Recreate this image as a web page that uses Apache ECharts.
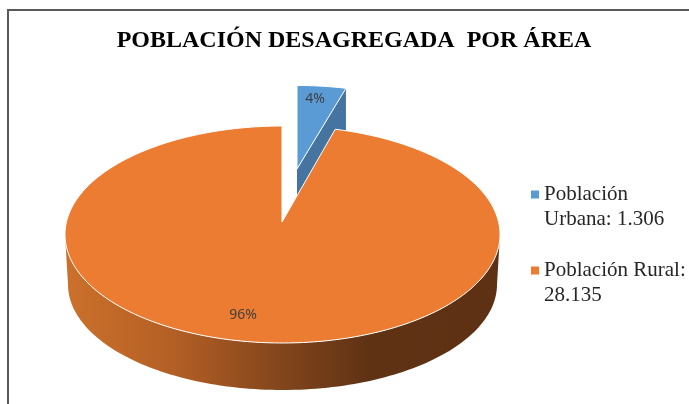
<!DOCTYPE html>
<html>
<head>
<meta charset="utf-8">
<style>
  html, body { margin: 0; padding: 0; background: #fff; }
  #main { width: 689px; height: 404px; }
</style>
<script src="https://cdn.jsdelivr.net/npm/echarts@6/dist/echarts.min.js"></script>
</head>
<body>
<div id="main"></div>
<script>
const titleText = 'POBLACIÓN DESAGREGADA  POR ÁREA';
const categories = ['Población\nUrbana: 1.306', 'Población Rural:\n28.135'];
const values = [1306, 28135];
const colors = ['#5B9BD5', '#EB7C31'];

// tilted pie: ellipse of the top face, apex sits above its centre (perspective)
const disc = { cx: 282.5, cy: 234.5, rx: 217.5, ry: 108.5, apexX: 282, apexY: 222, depth: 50 };
const blueShift = { dx: 15, dy: -53, scaleX: 0.92, scaleY: 0.87 };

const total = values[0] + values[1];
const blueAngle = (values[0] / total) * Math.PI * 2;

// where the ray at angle a (clockwise from top) leaves the ellipse
function edgePoint(a) {
  const dx = Math.sin(a) * disc.rx;
  const dy = -Math.cos(a) * disc.ry;
  const ox = (disc.apexX - disc.cx) / disc.rx;
  const oy = (disc.apexY - disc.cy) / disc.ry;
  const ux = dx / disc.rx;
  const uy = dy / disc.ry;
  const A = ux * ux + uy * uy;
  const B = 2 * (ox * ux + oy * uy);
  const C = ox * ox + oy * oy - 1;
  const t = (-B + Math.sqrt(B * B - 4 * A * C)) / (2 * A);
  return [disc.apexX + dx * t, disc.apexY + dy * t];
}

function sectorPoints(from, to) {
  const pts = [[disc.apexX, disc.apexY]];
  const n = Math.ceil((to - from) / 0.02);
  for (let i = 0; i <= n; i++) {
    pts.push(edgePoint(from + ((to - from) * i) / n));
  }
  return pts;
}

function renderBlue(params, api) {
  const color = api.visual('color');
  const move = p => [
    disc.apexX + blueShift.dx + (p[0] - disc.apexX) * blueShift.scaleX,
    disc.apexY + blueShift.dy + (p[1] - disc.apexY) * blueShift.scaleY,
  ];
  const share = api.value(0) / total;
  const top = sectorPoints(0, share * Math.PI * 2).map(move);
  const depth = disc.depth * blueShift.scaleY;
  const apex = top[0];
  const corner = top[top.length - 1];
  return {
    type: 'group',
    children: [
      {
        type: 'polygon',
        shape: { points: [apex, corner, [corner[0], corner[1] + depth], [apex[0], apex[1] + depth]] },
        style: { fill: '#44749F' },
      },
      {
        type: 'polygon',
        shape: { points: top },
        style: { fill: color, stroke: '#fff', lineWidth: 1 },
      },
      {
        type: 'text',
        style: {
          x: 315,
          y: 99,
          text: Math.round(share * 100) + '%',
          fill: '#404040',
          font: '14px "Noto Sans"',
          align: 'center',
          verticalAlign: 'middle',
        },
      },
    ],
  };
}

function renderOrange(params, api) {
  const color = api.visual('color');
  const share = api.value(0) / total;
  const side = [];
  for (let i = 0; i <= 120; i++) {
    const a = Math.PI - (Math.PI * i) / 120;
    side.push([disc.cx + Math.cos(a) * disc.rx, disc.cy + Math.sin(a) * disc.ry]);
  }
  for (let i = 120; i >= 0; i--) {
    const a = Math.PI - (Math.PI * i) / 120;
    side.push([disc.cx + Math.cos(a) * (disc.rx - 3), disc.cy + disc.depth + Math.sin(a) * (disc.ry - 3)]);
  }
  return {
    type: 'group',
    children: [
      {
        type: 'polygon',
        shape: { points: side },
        style: {
          fill: {
            type: 'linear',
            x: 0,
            y: 0,
            x2: 1,
            y2: 0,
            colorStops: [
              { offset: 0, color: '#CC712C' },
              { offset: 0.25, color: '#B35F25' },
              { offset: 0.52, color: '#7E431B' },
              { offset: 0.7, color: '#5F3214' },
              { offset: 1, color: '#5E3114' },
            ],
          },
        },
      },
      {
        type: 'polygon',
        shape: { points: sectorPoints(blueAngle, Math.PI * 2) },
        style: { fill: color, stroke: '#fff', lineWidth: 1 },
      },
      {
        type: 'text',
        style: {
          x: 243,
          y: 315,
          text: Math.round(share * 100) + '%',
          fill: '#404040',
          font: '14px "Noto Sans"',
          align: 'center',
          verticalAlign: 'middle',
        },
      },
    ],
  };
}

const myChart = echarts.init(document.getElementById('main'));
myChart.setOption({
  animation: false,
  backgroundColor: '#fff',
  title: {
    text: titleText,
    left: 349,
    top: 24,
    textAlign: 'center',
    textStyle: { fontFamily: 'Liberation Serif', fontWeight: 'bold', fontSize: 24, color: '#000' },
  },
  legend: {
    orient: 'vertical',
    left: 526,
    top: 152,
    itemWidth: 8,
    itemHeight: 8,
    itemGap: 1,
    icon: 'rect',
    // blank first line keeps the marker level with the name's first line
    formatter: name => '\n' + name,
    textStyle: { fontFamily: 'Liberation Serif', fontSize: 21, lineHeight: 25, color: '#262626' },
    data: categories,
  },
  graphic: [
    {
      type: 'polyline',
      shape: { points: [[8, 404], [8, 10], [689, 10]] },
      style: { fill: 'none', stroke: '#595959', lineWidth: 2 },
    },
  ],
  series: [
    {
      type: 'custom',
      name: categories[0],
      coordinateSystem: 'none',
      silent: true,
      itemStyle: { color: colors[0] },
      renderItem: renderBlue,
      data: [values[0]],
    },
    {
      type: 'custom',
      name: categories[1],
      coordinateSystem: 'none',
      silent: true,
      itemStyle: { color: colors[1] },
      renderItem: renderOrange,
      data: [values[1]],
    },
  ],
});
</script>
</body>
</html>
